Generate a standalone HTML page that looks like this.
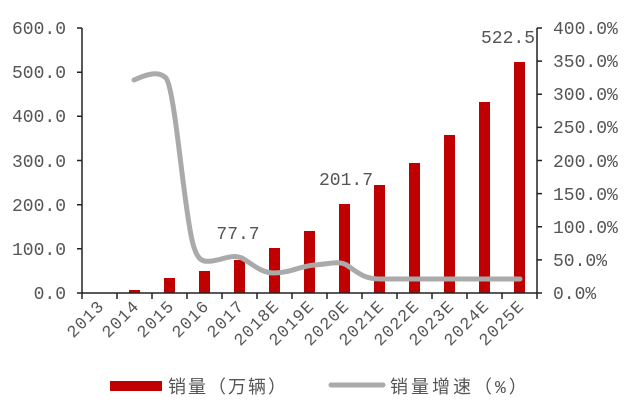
<!DOCTYPE html><html><head><style>body{margin:0;background:#fff}svg text{font-family:"Liberation Mono","Noto Sans CJK SC",monospace;fill:#555}</style></head><body>
<svg width="640" height="402" xmlns="http://www.w3.org/2000/svg">
<g font-size="18" text-anchor="end">
<text x="66" y="299">0.0</text><text x="66" y="255">100.0</text><text x="66" y="211">200.0</text><text x="66" y="167">300.0</text><text x="66" y="122">400.0</text><text x="66" y="78">500.0</text><text x="66" y="34">600.0</text>
</g>
<g font-size="18">
<text x="553" y="299">0.0%</text><text x="553" y="266">50.0%</text><text x="553" y="233">100.0%</text><text x="553" y="200">150.0%</text><text x="553" y="167">200.0%</text><text x="553" y="133">250.0%</text><text x="553" y="100">300.0%</text><text x="553" y="67">350.0%</text><text x="553" y="34">400.0%</text>
</g>
<g fill="#c00000">
<rect x="129" y="290" width="11" height="3"/>
<rect x="164" y="278" width="11" height="15"/>
<rect x="199" y="271" width="11" height="22"/>
<rect x="234" y="260" width="11" height="33"/>
<rect x="269" y="248" width="11" height="45"/>
<rect x="304" y="231" width="11" height="62"/>
<rect x="339" y="204" width="11" height="89"/>
<rect x="374" y="185" width="11" height="108"/>
<rect x="409" y="163" width="11" height="130"/>
<rect x="444" y="135" width="11" height="158"/>
<rect x="479" y="102" width="11" height="191"/>
<rect x="514" y="62" width="11" height="231"/>
</g>
<path d="M134 80 C145 75,158 70,166 78 C175 90,183 200,192 240 C197 262,203 262,212 261 C225 259,232 254,242 258 C255 266,262 273,274 273 C290 273,300 266,315 265 C330 264,340 260,348 266 C360 274,365 279,380 279 C410 279,480 279,520 279" fill="none" stroke="#aaa" stroke-width="5" stroke-linecap="round"/>
<g stroke="#222" stroke-width="1.5" fill="none">
<line x1="82" y1="28" x2="82" y2="293"/><line x1="537" y1="28" x2="537" y2="293"/><line x1="82" y1="293" x2="537" y2="293"/>
<path d="M77 28h5M77 72.2h5M77 116.3h5M77 160.5h5M77 204.7h5M77 248.8h5M77 293h5"/>
<path d="M537 28h5M537 61.1h5M537 94.3h5M537 127.4h5M537 160.5h5M537 193.6h5M537 226.8h5M537 259.9h5M537 293h5"/>
<path d="M82 293v6M117 293v6M152 293v6M187 293v6M222 293v6M257 293v6M292 293v6M327 293v6M362 293v6M397 293v6M432 293v6M467 293v6M502 293v6M537 293v6"/>
</g>
<g font-size="18">
<text x="238" y="239" text-anchor="middle">77.7</text>
<text x="346" y="185" text-anchor="middle">201.7</text>
<text x="508" y="43" text-anchor="middle">522.5</text>
</g>
<g font-size="17" text-anchor="end" letter-spacing="1">
<text transform="translate(105,307) rotate(-45)">2013</text>
<text transform="translate(140,307) rotate(-45)">2014</text>
<text transform="translate(175,307) rotate(-45)">2015</text>
<text transform="translate(210,307) rotate(-45)">2016</text>
<text transform="translate(245,307) rotate(-45)">2017</text>
<text transform="translate(280,307) rotate(-45)">2018E</text>
<text transform="translate(315,307) rotate(-45)">2019E</text>
<text transform="translate(350,307) rotate(-45)">2020E</text>
<text transform="translate(385,307) rotate(-45)">2021E</text>
<text transform="translate(420,307) rotate(-45)">2022E</text>
<text transform="translate(455,307) rotate(-45)">2023E</text>
<text transform="translate(490,307) rotate(-45)">2024E</text>
<text transform="translate(525,307) rotate(-45)">2025E</text>
</g>
<rect x="110" y="381" width="52" height="10" fill="#c00000"/>
<text x="168" y="393" font-size="18" letter-spacing="2">销量（万辆）</text>
<line x1="331" y1="385" x2="383" y2="385" stroke="#aaa" stroke-width="5" stroke-linecap="round"/>
<text x="390" y="393" font-size="18" letter-spacing="3">销量增速（%）</text>
</svg>
</body></html>
